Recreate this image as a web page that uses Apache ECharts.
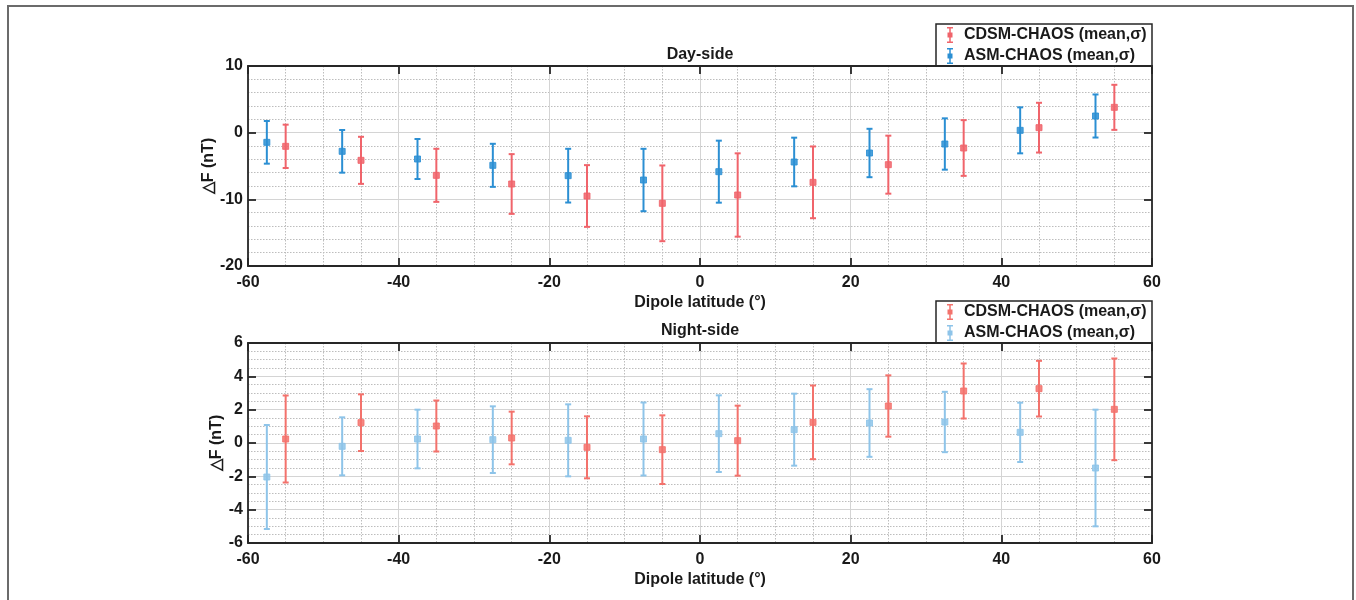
<!DOCTYPE html>
<html>
<head>
<meta charset="utf-8">
<script src="https://cdn.jsdelivr.net/npm/echarts@6/dist/echarts.min.js"></script>
<style>html,body{margin:0;padding:0;background:#fff}#c{width:1356px;height:600px}</style>
</head>
<body>
<div id="c"></div>
<script>
// ---------- data ----------
const latASM  = [-57.5,-47.5,-37.5,-27.5,-17.5,-7.5,2.5,12.5,22.5,32.5,42.5,52.5];
const latCDSM = [-55,-45,-35,-25,-15,-5,5,15,25,35,45,55];

const dayASMMean  = [-1.45,-2.8,-3.95,-4.9,-6.45,-7.1,-5.85,-4.4,-3.05,-1.7,0.35,2.5];
const dayASMSig   = [3.2,3.2,3.0,3.23,4.03,4.68,4.65,3.65,3.63,3.85,3.45,3.23];
const dayCDSMMean = [-2.05,-4.15,-6.4,-7.7,-9.5,-10.6,-9.35,-7.45,-4.8,-2.3,0.75,3.8];
const dayCDSMSig  = [3.25,3.53,3.98,4.48,4.63,5.68,6.25,5.38,4.35,4.18,3.73,3.38];

const nightASMMean  = [-2.04,-0.2,0.24,0.2,0.16,0.24,0.56,0.8,1.2,1.26,0.64,-1.5];
const nightASMSig   = [3.12,1.74,1.76,2.0,2.16,2.19,2.3,2.16,2.03,1.81,1.78,3.5];
const nightCDSMMean = [0.24,1.22,1.02,0.3,-0.26,-0.4,0.14,1.24,2.22,3.12,3.26,2.02];
const nightCDSMSig  = [2.61,1.7,1.53,1.58,1.86,2.06,2.1,2.21,1.84,1.65,1.67,3.05];

const xTicks = {min:-60, max:60, interval:20};
const dayY   = {min:-20, max:10, interval:10};
const nightY = {min:-6, max:6, interval:2};

const nameCDSM = 'CDSM-CHAOS (mean,σ)';
const nameASM  = 'ASM-CHAOS (mean,σ)';
const titles = ['Day-side','Night-side'];
const xName = 'Dipole latitude (°)';
const yName = '△F (nT)';

// ---------- style ----------
const FONT = '"Liberation Sans", Arial, sans-serif';
const RED = '#f0646b';
const BLUE_DAY = '#2b8fd3';
const RED_N = '#f3726c';
const BLUE_N = '#8ec4e9';
const AX = '#262626';

function zip(lat, m, s){ return lat.map((x,i)=>[x, m[i], s[i]]); }

function renderEB(params, api){
  const x = api.value(0), m = api.value(1), s = api.value(2);
  const c = api.coord([x,m]), t = api.coord([x,m+s]), b = api.coord([x,m-s]);
  const col = api.visual('color');
  const cw = 3, sq = 3;
  return {type:'group', children:[
    {type:'line', shape:{x1:c[0],y1:t[1],x2:c[0],y2:b[1]}, style:{stroke:col,lineWidth:2}},
    {type:'line', shape:{x1:c[0]-cw,y1:t[1],x2:c[0]+cw,y2:t[1]}, style:{stroke:col,lineWidth:2}},
    {type:'line', shape:{x1:c[0]-cw,y1:b[1],x2:c[0]+cw,y2:b[1]}, style:{stroke:col,lineWidth:2}},
    {type:'rect', shape:{x:c[0]-sq,y:c[1]-sq,width:2*sq,height:2*sq}, style:{fill:col,stroke:col,lineWidth:1,opacity:0.85}}
  ]};
}

function xAxisCfg(grid, pos, showLabel){
  return {
    type:'value', gridIndex:grid, position:pos, min:xTicks.min, max:xTicks.max, interval:xTicks.interval,
    name: showLabel ? xName : '', nameLocation:'middle', nameGap:29, nameMoveOverlap:false,
    nameTextStyle:{fontFamily:FONT,fontSize:16,fontWeight:'bold',color:'#1a1a1a'},
    axisLine:{show:true,onZero:false,lineStyle:{color:AX,width:1.8}},
    axisTick:{show:true,inside:true,length:8,lineStyle:{color:AX,width:1.8}},
    axisLabel:{show:showLabel,margin:9,fontFamily:FONT,fontSize:16,fontWeight:'bold',color:'#1a1a1a'},
    splitLine:{show:showLabel,lineStyle:{color:'#d4d4d4',width:1}},
    minorTick:{show:false,splitNumber:4},
    minorSplitLine:{show:showLabel,lineStyle:{color:'#bdbdbd',width:1,type:[1.5,1.5]}}
  };
}
function yAxisCfg(grid, pos, showLabel, rng, minorSplit, gap){
  return {
    type:'value', gridIndex:grid, position:pos, min:rng.min, max:rng.max, interval:rng.interval,
    name: showLabel ? yName : '', nameLocation:'middle', nameGap:gap, nameRotate:90, nameMoveOverlap:false,
    nameTextStyle:{fontFamily:FONT,fontSize:16,fontWeight:'bold',color:'#1a1a1a'},
    axisLine:{show:true,onZero:false,lineStyle:{color:AX,width:1.8}},
    axisTick:{show:true,inside:true,length:8,lineStyle:{color:AX,width:1.8}},
    axisLabel:{show:showLabel,margin:5,fontFamily:FONT,fontSize:16,fontWeight:'bold',color:'#1a1a1a'},
    splitLine:{show:showLabel,lineStyle:{color:'#d4d4d4',width:1}},
    minorTick:{show:false,splitNumber:minorSplit},
    minorSplitLine:{show:showLabel,lineStyle:{color:'#bdbdbd',width:1,type:[1.5,1.5]}}
  };
}

const ebIcon = 'path://M2,0h6v1.5h-6z M4.25,0h1.5v16h-1.5z M2.5,5.5h5v5h-5z M2,14.5h6v1.5h-6z';
function legendCfg(top, redC, blueC){
  return {
    orient:'vertical', left:947, top:top, padding:0, itemWidth:8, itemHeight:16, itemGap:5,
    selectedMode:false,
    textStyle:{fontFamily:FONT,fontSize:16,fontWeight:'bold',color:'#1a1a1a',padding:[0,0,0,5]},
    data:[
      {name:nameCDSM, icon:ebIcon, itemStyle:{color:redC}},
      {name:nameASM, icon:ebIcon, itemStyle:{color:blueC}}
    ]
  };
}

const chart = echarts.init(document.getElementById('c'), null, {renderer:'canvas'});
chart.setOption({
  animation:false,
  backgroundColor:'#fff',
  grid:[
    {left:248, right:204, top:66, height:200},
    {left:248, right:204, top:343, height:200}
  ],
  xAxis:[
    xAxisCfg(0,'bottom',true), xAxisCfg(0,'top',false),
    xAxisCfg(1,'bottom',true), xAxisCfg(1,'top',false)
  ],
  yAxis:[
    yAxisCfg(0,'left',true,dayY,5,31), yAxisCfg(0,'right',false,dayY,5,31),
    yAxisCfg(1,'left',true,nightY,4,23), yAxisCfg(1,'right',false,nightY,4,23)
  ],
  legend:[legendCfg(27, RED, BLUE_DAY), legendCfg(304, RED_N, BLUE_N)],
  graphic:[
    {type:'rect', z:-1, shape:{x:8,y:6,width:1345,height:620}, style:{fill:'none',stroke:'#6b6b6b',lineWidth:2}},
    {type:'rect', z:-1, shape:{x:936,y:24,width:216,height:42}, style:{fill:'#fff',stroke:AX,lineWidth:1.5}},
    {type:'rect', z:-1, shape:{x:936,y:301,width:216,height:42}, style:{fill:'#fff',stroke:AX,lineWidth:1.5}},
    {type:'text', x:700, y:55, style:{text:titles[0], font:'bold 16px '+FONT, fill:'#1a1a1a', textAlign:'center', textVerticalAlign:'middle'}},
    {type:'text', x:700, y:331, style:{text:titles[1], font:'bold 16px '+FONT, fill:'#1a1a1a', textAlign:'center', textVerticalAlign:'middle'}}
  ],
  series:[
    {type:'custom', name:nameASM, xAxisIndex:0, yAxisIndex:0, color:BLUE_DAY, renderItem:renderEB, encode:{x:0,y:1}, data:zip(latASM, dayASMMean, dayASMSig)},
    {type:'custom', name:nameCDSM, xAxisIndex:0, yAxisIndex:0, color:RED, renderItem:renderEB, encode:{x:0,y:1}, data:zip(latCDSM, dayCDSMMean, dayCDSMSig)},
    {type:'custom', name:nameASM, xAxisIndex:2, yAxisIndex:2, color:BLUE_N, renderItem:renderEB, encode:{x:0,y:1}, data:zip(latASM, nightASMMean, nightASMSig)},
    {type:'custom', name:nameCDSM, xAxisIndex:2, yAxisIndex:2, color:RED_N, renderItem:renderEB, encode:{x:0,y:1}, data:zip(latCDSM, nightCDSMMean, nightCDSMSig)}
  ]
});
</script>
</body>
</html>
